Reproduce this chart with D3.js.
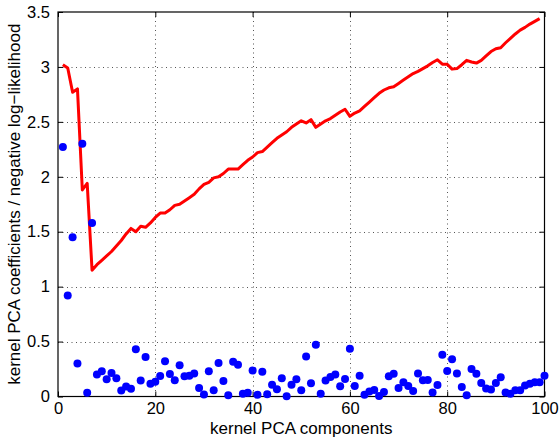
<!DOCTYPE html>
<html>
<head>
<meta charset="utf-8">
<script src="https://cdn.jsdelivr.net/npm/d3@7"></script>
<style>
  html, body { margin: 0; padding: 0; background: #fff; }
  svg { display: block; }
  text { font-family: "Liberation Sans", Arial, Helvetica, sans-serif; fill: #000; }
</style>
</head>
<body>
<svg id="chart" width="559" height="437"></svg>
<script>
// Negative log-likelihood per number of kernel PCA components (1..99)
const nllComponents = d3.range(1, 100);
const nllValues = [
  3.02, 2.99, 2.77, 2.80, 1.88, 1.94, 1.15, 1.20, 1.24, 1.28,
  1.32, 1.37, 1.42, 1.48, 1.53, 1.50, 1.55, 1.54, 1.58, 1.63,
  1.67, 1.67, 1.70, 1.74, 1.75, 1.78, 1.81, 1.84, 1.89, 1.93,
  1.95, 1.99, 2.00, 2.03, 2.07, 2.07, 2.07, 2.11, 2.15, 2.18,
  2.22, 2.23, 2.27, 2.31, 2.35, 2.38, 2.41, 2.45, 2.48, 2.51,
  2.49, 2.52, 2.45, 2.48, 2.51, 2.53, 2.56, 2.59, 2.615, 2.55,
  2.58, 2.60, 2.64, 2.68, 2.72, 2.76, 2.79, 2.81, 2.82, 2.85,
  2.88, 2.91, 2.94, 2.96, 2.985, 3.01, 3.04, 3.065, 3.025, 3.025,
  2.98, 2.985, 3.02, 3.06, 3.045, 3.035, 3.06, 3.10, 3.14, 3.165,
  3.175, 3.22, 3.26, 3.30, 3.335, 3.36, 3.39, 3.415, 3.44
];

// Absolute kernel PCA coefficients per component (1..100)
const coefComponents = d3.range(1, 101);
const coefValues = [
  2.27, 0.92, 1.45, 0.30, 2.30, 0.033, 1.58, 0.20, 0.23, 0.157,
  0.215, 0.166, 0.054, 0.09, 0.07, 0.43, 0.145, 0.36, 0.115, 0.135,
  0.187, 0.32, 0.205, 0.148, 0.284, 0.184, 0.19, 0.21, 0.078, 0.018,
  0.23, 0.057, 0.305, 0.14, 0.012, 0.317, 0.29, 0.026, 0.035, 0.237,
  0.015, 0.226, 0.02, 0.108, 0.066, 0.166, 0.003, 0.108, 0.157, 0.057,
  0.363, 0.12, 0.47, 0.024, 0.145, 0.178, 0.20, 0.094, 0.16, 0.435,
  0.096, 0.19, 0.015, 0.045, 0.06, 0.005, 0.042, 0.184, 0.208, 0.078,
  0.13, 0.096, 0.051, 0.21, 0.148, 0.151, 0.036, 0.105, 0.38, 0.233,
  0.34, 0.21, 0.087, 0.012, 0.25, 0.208, 0.124, 0.072, 0.063, 0.124,
  0.175, 0.036, 0.026, 0.057, 0.057, 0.10, 0.115, 0.13, 0.13, 0.19
];

const xTicks = [0, 20, 40, 60, 80, 100];
const yTicks = [0, 0.5, 1, 1.5, 2, 2.5, 3, 3.5];
const xTitle = "kernel PCA components";
const yTitle = "kernel PCA coefficients / negative log\u2212likelihood";

const svg = d3.select("#chart");
const m = { left: 58, right: 544.5, top: 12, bottom: 396.5 };

const x = d3.scaleLinear().domain([0, 100]).range([m.left, m.right]);
const y = d3.scaleLinear().domain([0, 3.5]).range([m.bottom, m.top]);

// Dotted grid at the major ticks
const grid = svg.append("g").attr("stroke", "#555").attr("stroke-width", 1)
  .attr("stroke-dasharray", "1,3.5");
grid.selectAll(".gx").data(xTicks.slice(1, -1)).join("line")
  .attr("x1", d => Math.round(x(d)) + 0.5).attr("x2", d => Math.round(x(d)) + 0.5)
  .attr("y1", m.top).attr("y2", m.bottom);
grid.selectAll(".gy").data(yTicks.slice(1, -1)).join("line")
  .attr("y1", d => Math.round(y(d)) + 0.5).attr("y2", d => Math.round(y(d)) + 0.5)
  .attr("x1", m.left).attr("x2", m.right);

// Axes with inward ticks on all four sides
const tickLen = 5;
const axisFont = 16.5;
const bottomAxis = d3.axisBottom(x).tickValues(xTicks).tickSizeInner(-tickLen).tickSizeOuter(0).tickPadding(6);
const topAxis = d3.axisTop(x).tickValues(xTicks).tickSizeInner(-tickLen).tickSizeOuter(0).tickFormat("");
const leftAxis = d3.axisLeft(y).tickValues(yTicks).tickSizeInner(-tickLen).tickSizeOuter(0).tickPadding(tickLen + 3)
  .tickFormat(d3.format("~g"));
const rightAxis = d3.axisRight(y).tickValues(yTicks).tickSizeInner(-tickLen).tickSizeOuter(0).tickFormat("");

function styleAxis(g) {
  g.selectAll("path").remove();
  g.selectAll("line").attr("stroke", "#000");
  g.selectAll("text").attr("font-size", axisFont).attr("fill", "#000")
    .attr("font-family", "'Liberation Sans', Arial, sans-serif");
}
svg.append("g").attr("transform", `translate(0,${m.bottom})`).call(bottomAxis).call(styleAxis);
svg.append("g").attr("transform", `translate(0,${m.top})`).call(topAxis).call(styleAxis);
svg.append("g").attr("transform", `translate(${m.left},0)`).call(leftAxis).call(styleAxis);
svg.append("g").attr("transform", `translate(${m.right},0)`).call(rightAxis).call(styleAxis);

// Plot box
svg.append("rect")
  .attr("x", m.left).attr("y", m.top)
  .attr("width", m.right - m.left).attr("height", m.bottom - m.top)
  .attr("fill", "none").attr("stroke", "#000").attr("stroke-width", 1.2);

// Negative log-likelihood curve
const line = d3.line().x((d, i) => x(nllComponents[i])).y(d => y(d));
svg.append("path").datum(nllValues)
  .attr("d", line).attr("fill", "none")
  .attr("stroke", "#ff0000").attr("stroke-width", 3)
  .attr("stroke-linejoin", "round");

// Coefficient markers
svg.append("g").selectAll("circle").data(coefValues).join("circle")
  .attr("cx", (d, i) => x(coefComponents[i])).attr("cy", d => y(d))
  .attr("r", 4).attr("fill", "#0000ff");

// Axis titles
svg.append("text").attr("x", (m.left + m.right) / 2).attr("y", 433.5)
  .attr("text-anchor", "middle").attr("font-size", 17).text(xTitle);
svg.append("text")
  .attr("transform", `translate(20,${(m.top + m.bottom) / 2}) rotate(-90)`)
  .attr("text-anchor", "middle").attr("font-size", 17).text(yTitle);
</script>
</body>
</html>
